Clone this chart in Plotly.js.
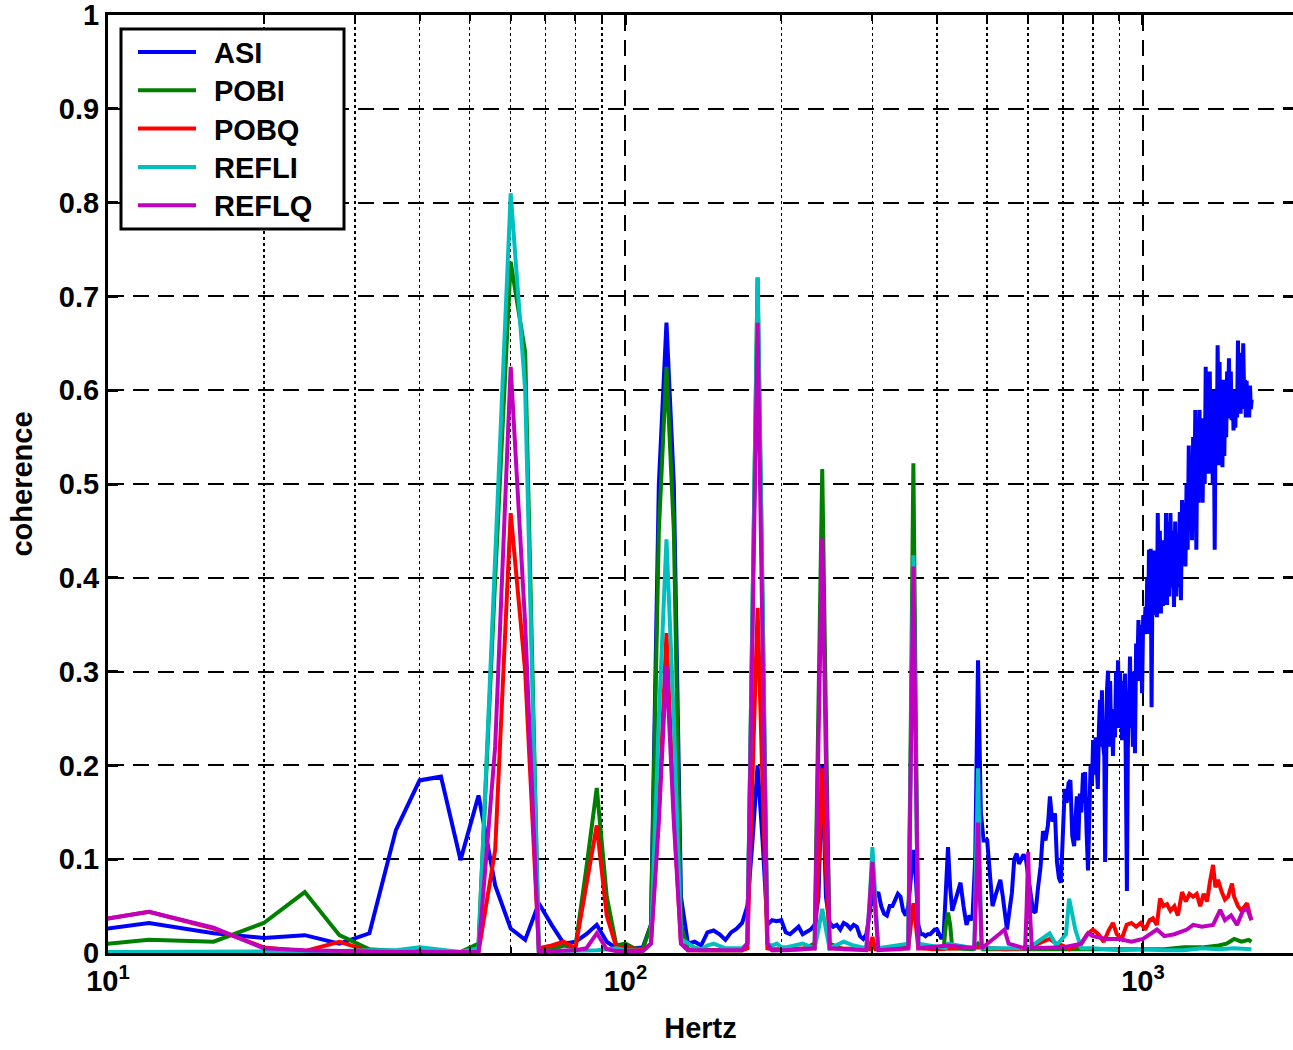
<!DOCTYPE html>
<html>
<head>
<meta charset="utf-8">
<script src="https://cdn.plot.ly/plotly-3.0.1.min.js"></script>
<style>html,body{margin:0;padding:0;background:#fff;}#chart{width:1293px;height:1050px;}</style>
</head>
<body>
<div id="chart"></div>
<script>
// Shared low-frequency grid (Hz)
const lowHz = [8,12,16,20,24,28,32,36,40,44,48,52,56,60,64,68,72,76,80,84,88,92,96,100,104,108,112,116,120,124,128,132,136,140,144,148,152,156,160,164,168,172,176,180,184,188,192,196,200];

// ASI
const asiLow = [0.019,0.032,0.021,0.016,0.019,0.010,0.021,0.131,0.184,0.188,0.099,0.168,0.072,0.026,0.014,0.053,0.030,0.010,0.012,0.020,0.030,0.012,0.005,0.004,0.005,0.006,0.030,0.500,0.672,0.500,0.060,0.010,0.012,0.008,0.022,0.024,0.020,0.014,0.022,0.026,0.032,0.050,0.120,0.200,0.120,0.030,0.035,0.034,0.035];
const asiHighPts = [[204,0.022],[208,0.020],[212,0.024],[216,0.028],[220,0.020],[224,0.022],[228,0.025],[232,0.030],[236,0.060],[240,0.200],[244,0.060],[248,0.032],[252,0.028],[256,0.030],[260,0.025],[264,0.032],[268,0.030],[272,0.026],[276,0.030],[280,0.028],[284,0.018],[288,0.015],[292,0.020],[296,0.040],[300,0.065],[304,0.060],[308,0.065],[312,0.050],[316,0.042],[320,0.040],[324,0.050],[328,0.050],[332,0.058],[336,0.063],[340,0.060],[344,0.045],[348,0.040],[352,0.050],[356,0.080],[360,0.110],[364,0.080],[368,0.030],[372,0.020],[376,0.020],[380,0.018],[384,0.020],[388,0.020],[392,0.022],[396,0.025],[400,0.025],[404,0.020],[408,0.015],[412,0.020],[416,0.070],[420,0.113],[424,0.070],[428,0.045],[436,0.060],[444,0.075],[450,0.050],[456,0.030],[462,0.040],[468,0.035],[474,0.100],[480,0.312],[486,0.150],[492,0.120],[500,0.120],[506,0.080],[512,0.050],[518,0.060],[524,0.070],[530,0.078],[536,0.060],[542,0.035],[546,0.025],[552,0.045],[558,0.064],[564,0.100],[570,0.106],[576,0.095],[582,0.100],[588,0.105],[594,0.100],[600,0.085],[606,0.065],[613,0.045],[620,0.043],[627,0.070],[634,0.092],[641,0.130],[648,0.120],[655,0.136],[661,0.167],[668,0.140],[676,0.149],[682,0.097],[688,0.080],[694,0.075],[700,0.140],[706,0.175],[712,0.160],[718,0.181],[724,0.184],[730,0.125],[736,0.114],
[740,0.140],[745,0.167],[750,0.120],[755,0.170],[760,0.150],[766,0.192],[770,0.160],[773,0.193],[778,0.130],[783,0.088],[788,0.150],[792,0.200],[797,0.180],[801,0.227],[806,0.190],[810,0.230],[814,0.200],[818,0.175],[822,0.240],[826,0.270],[830,0.220],[833,0.280],[838,0.220],[842,0.210],[845,0.097],[849,0.220],[852,0.280],[856,0.301],[860,0.220],[864,0.290],[868,0.230],[871,0.250],[875,0.210],[879,0.260],[883,0.230],[887,0.300],[891,0.260],[895,0.312],[899,0.240],[903,0.300],[907,0.250],[911,0.227],[915,0.290],[919,0.240],[923,0.298],[927,0.200],[931,0.066],[935,0.220],[940,0.300],[944,0.316],[948,0.240],[952,0.300],[956,0.220],[960,0.300],[965,0.213],[970,0.330],[975,0.300],[980,0.355],[985,0.290],[990,0.350],[996,0.277],[1001,0.360],[1006,0.340],[1011,0.369],[1015,0.350],[1019,0.400],[1023,0.340],[1027,0.430],[1031,0.360],[1035,0.431],[1039,0.262],[1043,0.400],[1047,0.360],[1051,0.429],[1055,0.370],[1060,0.420],[1064,0.358],[1068,0.469],[1073,0.370],[1078,0.450],[1083,0.362],[1088,0.429],[1093,0.370],[1098,0.440],[1103,0.380],[1108,0.469],[1113,0.371],[1118,0.460],[1124,0.380],[1130,0.469],[1136,0.390],[1142,0.450],[1148,0.369],[1154,0.460],[1160,0.380],[1166,0.447],[1172,0.390],[1178,0.470],[1184,0.376],[1190,0.483],[1196,0.420],[1202,0.480],[1208,0.412],[1214,0.500],[1220,0.430],[1226,0.541],[1232,0.450],[1238,0.520],[1244,0.440],[1250,0.550],[1256,0.470],[1262,0.579],[1268,0.430],[1274,0.560],[1280,0.480],[1286,0.579],[1292,0.500],[1298,0.550],[1304,0.480],[1310,0.570],[1316,0.500],[1322,0.625],[1328,0.520],[1334,0.600],[1340,0.511],[1346,0.620],[1352,0.530],[1358,0.600],[1364,0.500],[1370,0.580],[1376,0.430],[1382,0.600],[1388,0.520],[1394,0.648],[1400,0.550],[1406,0.630],[1412,0.520],[1418,0.600],[1424,0.518],[1430,0.611],[1436,0.530],[1442,0.600],[1448,0.550],[1454,0.620],[1460,0.570],[1466,0.634],[1472,0.570],[1478,0.620],[1484,0.568],[1490,0.600],[1496,0.557],[1502,0.590],[1508,0.560],[1514,0.600],[1520,0.571],[1526,0.653],[1532,0.580],[1538,0.640],[1544,0.575],[1550,0.630],[1556,0.580],[1562,0.650],[1568,0.600],[1574,0.611],[1580,0.571],[1586,0.610],[1592,0.575],[1598,0.600],[1604,0.571],[1610,0.605],[1616,0.580],[1622,0.590]];

// POBI
const pobiLow = [0.005,0.014,0.012,0.032,0.065,0.019,0.004,0.002,0.002,0.001,0.001,0.010,0.400,0.737,0.640,0.003,0.004,0.008,0.006,0.090,0.176,0.060,0.008,0.010,0.005,0.004,0.030,0.450,0.625,0.450,0.030,0.004,0.003,0.003,0.003,0.003,0.003,0.003,0.003,0.003,0.003,0.010,0.380,0.720,0.380,0.010,0.003,0.003,0.004];
const pobiHighPts = [[204,0.004],[220,0.004],[232,0.010],[236,0.250],[240,0.516],[244,0.250],[248,0.010],[264,0.004],[290,0.004],[300,0.006],[310,0.004],[340,0.004],[352,0.010],[356,0.250],[360,0.522],[364,0.250],[368,0.010],[390,0.004],[412,0.005],[416,0.030],[420,0.043],[424,0.030],[428,0.005],[470,0.004],[480,0.010],[490,0.004],[600,0.004],[700,0.004],[800,0.004],[900,0.005],[1000,0.004],[1100,0.004],[1200,0.006],[1300,0.006],[1400,0.008],[1450,0.010],[1500,0.015],[1550,0.012],[1600,0.014],[1620,0.012]];

// POBQ
const pobqLow = [0.028,0.044,0.026,0.006,0.002,0.012,0.002,0.001,0.001,0.001,0.001,0.001,0.110,0.469,0.300,0.005,0.008,0.012,0.005,0.070,0.136,0.040,0.006,0.006,0.004,0.003,0.010,0.150,0.341,0.150,0.010,0.003,0.003,0.003,0.003,0.003,0.003,0.003,0.003,0.003,0.003,0.005,0.180,0.368,0.180,0.005,0.004,0.004,0.004];
const pobqHighPts = [[204,0.004],[232,0.005],[236,0.090],[240,0.197],[244,0.090],[248,0.005],[296,0.004],[300,0.017],[304,0.004],[352,0.005],[356,0.030],[360,0.053],[364,0.030],[368,0.005],[400,0.004],[480,0.006],[540,0.004],[600,0.005],[640,0.012],[660,0.015],[680,0.010],[700,0.008],[720,0.004],[760,0.010],[780,0.020],[800,0.025],[820,0.020],[840,0.012],[860,0.025],[875,0.032],[890,0.020],[910,0.015],[930,0.030],[950,0.032],[970,0.028],[990,0.032],[1010,0.025],[1030,0.035],[1045,0.037],[1064,0.030],[1079,0.058],[1095,0.050],[1113,0.052],[1130,0.045],[1150,0.050],[1168,0.040],[1190,0.065],[1210,0.055],[1230,0.063],[1250,0.060],[1270,0.063],[1290,0.050],[1310,0.063],[1330,0.055],[1347,0.076],[1366,0.094],[1380,0.070],[1396,0.078],[1420,0.065],[1440,0.057],[1460,0.060],[1486,0.074],[1500,0.060],[1526,0.050],[1550,0.045],[1589,0.053],[1610,0.040],[1620,0.035]];

// REFLI
const refliLow = [0.001,0.001,0.002,0.002,0.002,0.002,0.003,0.003,0.006,0.003,0.001,0.005,0.420,0.810,0.600,0.002,0.002,0.002,0.002,0.002,0.003,0.004,0.005,0.003,0.002,0.002,0.010,0.250,0.441,0.250,0.015,0.010,0.006,0.004,0.008,0.010,0.008,0.005,0.005,0.005,0.005,0.010,0.380,0.720,0.380,0.010,0.008,0.010,0.006];
const refliHighPts = [[204,0.006],[220,0.010],[232,0.005],[236,0.025],[240,0.047],[244,0.025],[248,0.005],[264,0.012],[276,0.008],[292,0.005],[296,0.050],[300,0.113],[304,0.050],[308,0.005],[352,0.010],[356,0.200],[360,0.424],[364,0.200],[368,0.010],[416,0.005],[420,0.010],[472,0.005],[476,0.090],[480,0.197],[484,0.090],[488,0.005],[600,0.005],[660,0.021],[680,0.008],[710,0.020],[720,0.058],[730,0.040],[740,0.025],[760,0.005],[800,0.005],[900,0.003],[1000,0.004],[1100,0.003],[1200,0.003],[1300,0.005],[1400,0.004],[1500,0.005],[1620,0.004]];

// REFLQ
const reflqLow = [0.028,0.044,0.027,0.005,0.003,0.002,0.001,0.001,0.001,0.001,0.001,0.001,0.220,0.625,0.350,0.002,0.002,0.002,0.003,0.005,0.021,0.004,0.002,0.002,0.002,0.002,0.010,0.140,0.307,0.140,0.010,0.003,0.003,0.003,0.003,0.003,0.003,0.003,0.003,0.003,0.003,0.010,0.330,0.672,0.330,0.010,0.003,0.003,0.003];
const reflqHighPts = [[204,0.003],[232,0.005],[236,0.200],[240,0.442],[244,0.200],[248,0.005],[292,0.003],[296,0.045],[300,0.097],[304,0.045],[308,0.003],[352,0.005],[356,0.200],[360,0.412],[364,0.200],[368,0.005],[420,0.008],[472,0.005],[476,0.060],[480,0.139],[484,0.060],[488,0.005],[530,0.021],[540,0.025],[550,0.010],[592,0.005],[596,0.050],[600,0.108],[604,0.050],[610,0.005],[700,0.006],[760,0.010],[783,0.021],[800,0.018],[850,0.015],[900,0.015],[950,0.012],[1000,0.015],[1064,0.025],[1100,0.018],[1150,0.020],[1216,0.025],[1250,0.030],[1300,0.028],[1366,0.030],[1410,0.046],[1440,0.035],[1480,0.040],[1520,0.030],[1560,0.045],[1590,0.047],[1610,0.040],[1620,0.035]];

const seriesNames = ['ASI','POBI','POBQ','REFLI','REFLQ'];
const seriesColors = ['#0000ff','#008000','#ff0000','#00bfbf','#bf00bf'];
const seriesLow = [asiLow, pobiLow, pobqLow, refliLow, reflqLow];
const seriesHigh = [asiHighPts, pobiHighPts, pobqHighPts, refliHighPts, reflqHighPts];

const yTicks = [0,0.1,0.2,0.3,0.4,0.5,0.6,0.7,0.8,0.9,1];
const yTickText = ['0','0.1','0.2','0.3','0.4','0.5','0.6','0.7','0.8','0.9','1'];
const xTicks = [10,100,1000];
const xTickText = ['10<sup>1</sup>','10<sup>2</sup>','10<sup>3</sup>'];
const xMinor = [20,30,40,50,60,70,80,90,200,300,400,500,600,700,800,900];

const traces = seriesNames.map((n,i)=>({
  type:'scatter', mode:'lines', name:n, showlegend:false,
  x: lowHz.concat(seriesHigh[i].map(p=>p[0])),
  y: seriesLow[i].concat(seriesHigh[i].map(p=>p[1])),
  line:{color:seriesColors[i], width:4}
}));

const FAM = 'Liberation Sans, Arial, Helvetica, sans-serif';
const font = {family:FAM, size:29, color:'#000', weight:'bold'};

// legend drawn as a boxed list (pixel geometry of the plot area)
const PL = 108, PW = 1185, PT = 15, PH = 938;
const px = v => (v - PL) / PW;
const py = v => (PT + PH - v) / PH;
const shapes = [{type:'rect', xref:'paper', yref:'paper', x0:px(121), x1:px(344), y0:py(229), y1:py(29), fillcolor:'#fff', line:{color:'#000', width:3}, layer:'above'}];
const annotations = [];
seriesNames.forEach((n,i)=>{
  const yc = 52 + i*38.3;
  shapes.push({type:'line', xref:'paper', yref:'paper', x0:px(138), x1:px(196), y0:py(yc), y1:py(yc), line:{color:seriesColors[i], width:4}, layer:'above'});
  annotations.push({xref:'paper', yref:'paper', x:px(212), y:py(yc+1), xanchor:'left', yanchor:'middle', text:n, showarrow:false, font:font});
});

const layout = {
  width:1293, height:1050,
  margin:{l:108, r:0, t:15, b:97},
  paper_bgcolor:'#fff', plot_bgcolor:'#fff',
  font: font,
  showlegend:false,
  shapes: shapes,
  annotations: annotations,
  xaxis:{
    type:'log', range:[1, 3.2899],
    showline:true, linecolor:'#000', linewidth:3, mirror:'ticks',
    ticks:'inside', ticklen:10, tickwidth:3, tickcolor:'#000',
    tickvals:xTicks, ticktext:xTickText,
    showgrid:true, gridcolor:'#000', gridwidth:2, griddash:'16px,9px',
    minor:{tickvals:xMinor, showgrid:true, gridcolor:'#000', gridwidth:1.5, griddash:'dot', ticks:'inside', ticklen:6, tickcolor:'#000', tickwidth:2},
    zeroline:false,
    tickfont:font, ticklabeloverflow:'allow',
    title:{text:'Hertz', font:font, standoff:22}
  },
  yaxis:{
    range:[0,1], showline:true, linecolor:'#000', linewidth:3, mirror:'ticks',
    ticks:'inside', ticklen:10, tickwidth:3, tickcolor:'#000',
    tickvals:yTicks, ticktext:yTickText,
    showgrid:true, gridcolor:'#000', gridwidth:2, griddash:'16px,9px',
    zeroline:false,
    tickfont:font, ticklabeloverflow:'allow',
    title:{text:'coherence', font:font, standoff:18}
  }
};

Plotly.newPlot('chart', traces, layout, {displayModeBar:false, staticPlot:true});
</script>
</body>
</html>
